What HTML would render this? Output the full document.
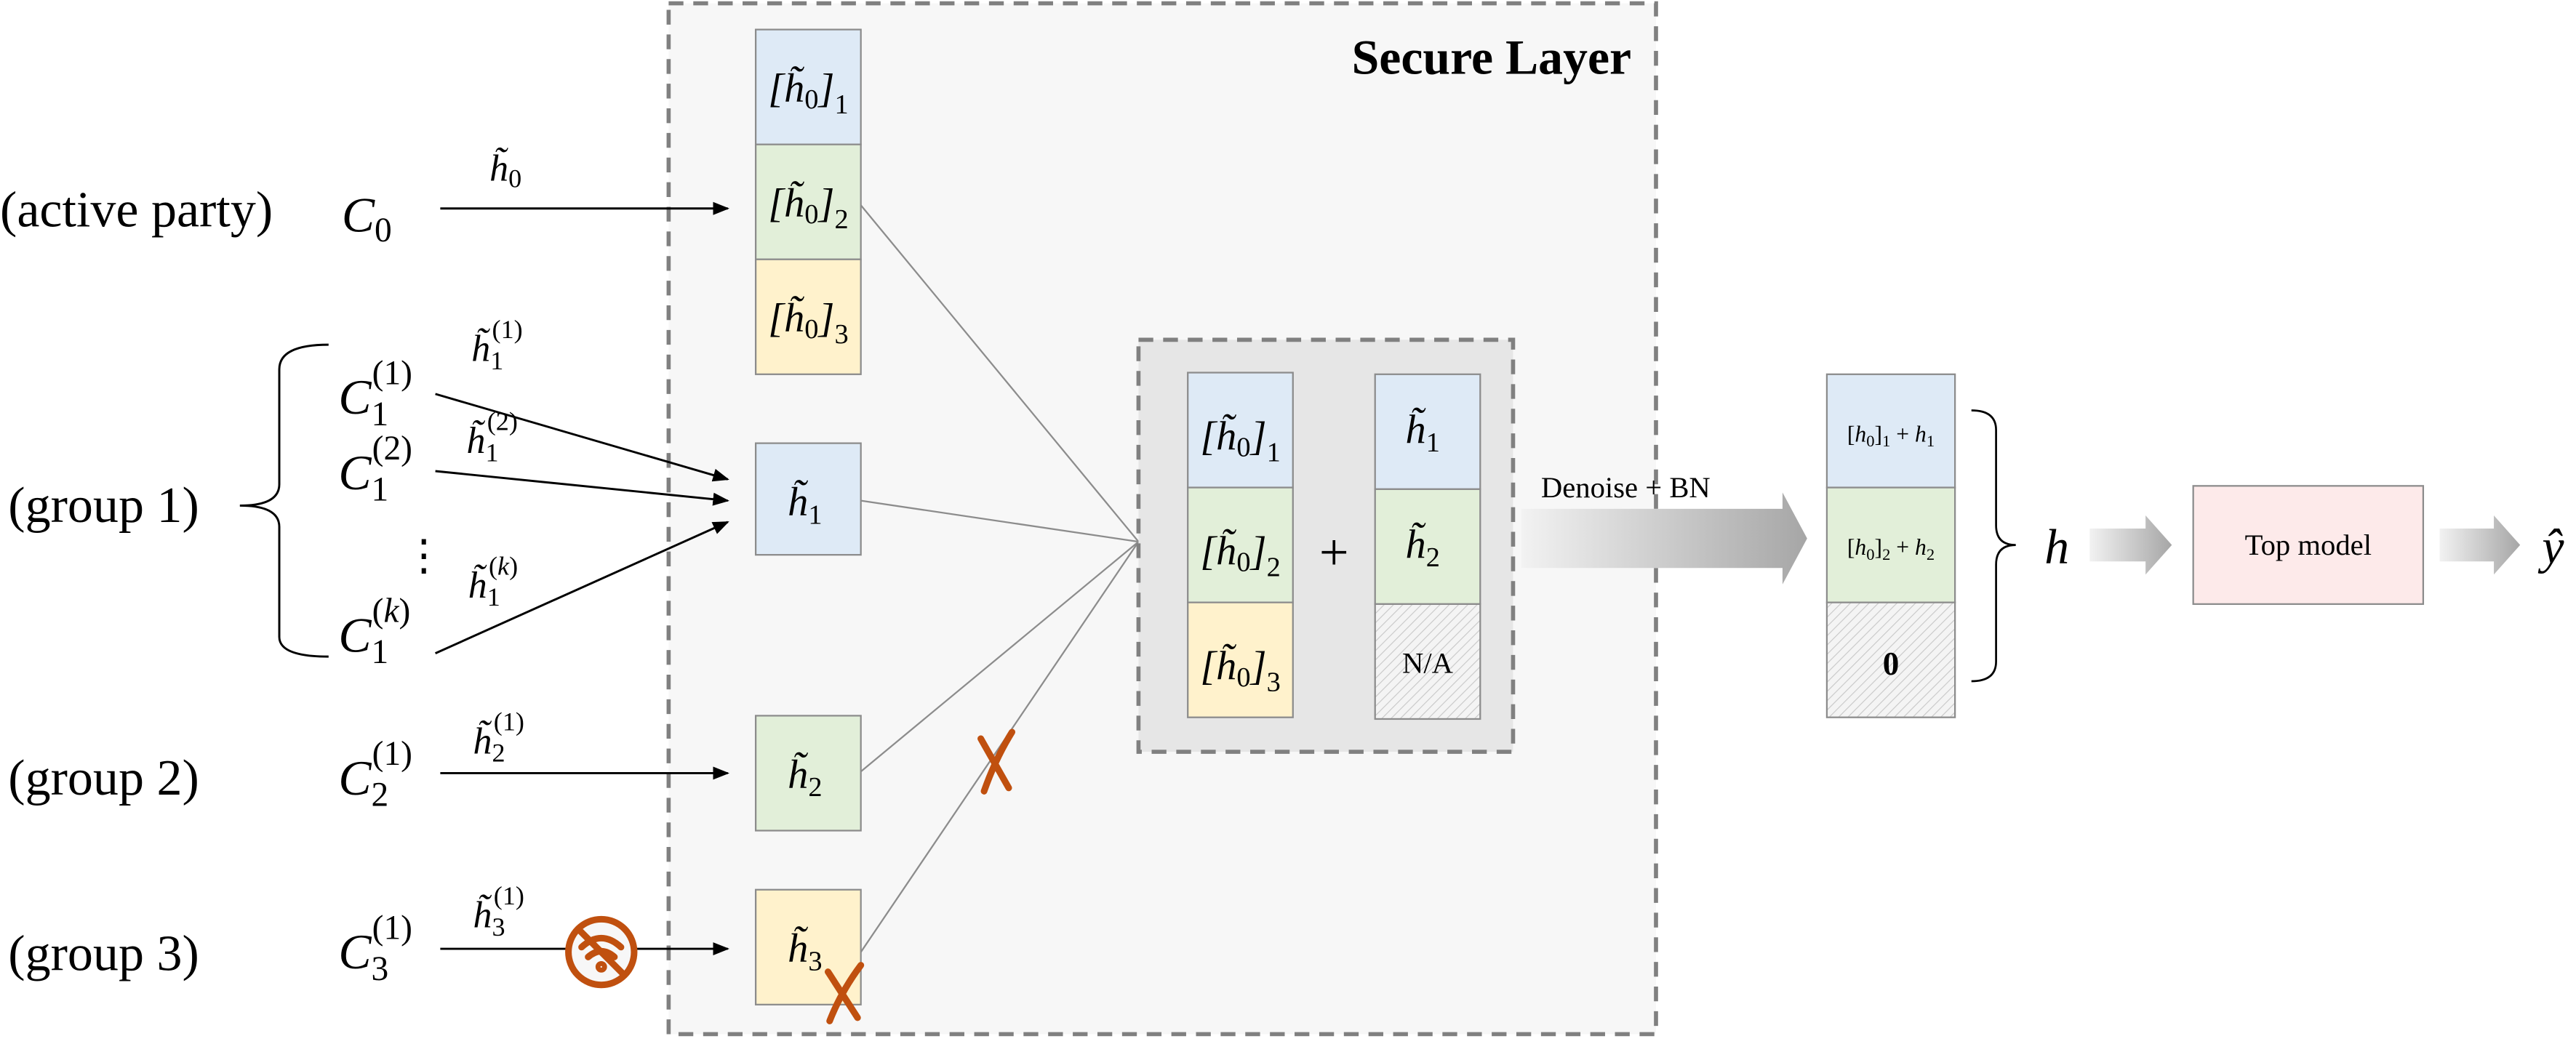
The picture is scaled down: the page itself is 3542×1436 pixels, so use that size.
<!DOCTYPE html>
<html><head><meta charset="utf-8"><style>html,body{margin:0;padding:0;background:#fff}svg{display:block}</style></head>
<body>
<svg width="3542" height="1436" viewBox="0 0 1568 636" preserveAspectRatio="none" xmlns="http://www.w3.org/2000/svg" font-family="'Liberation Serif',serif">
<defs>
<pattern id="hatch" width="4" height="4" patternUnits="userSpaceOnUse" patternTransform="rotate(45)">
<rect width="4" height="4" fill="#f4f4f4"/><line x1="0" y1="0" x2="0" y2="4" stroke="#c8c8c8" stroke-width="1"/></pattern>
<marker id="ar" markerWidth="10" markerHeight="8" refX="9" refY="4" orient="auto" markerUnits="userSpaceOnUse"><path d="M0,0 L10,4 L0,8z" fill="#000"/></marker>
<linearGradient id="g1" x1="0" x2="1"><stop offset="0" stop-color="#f2f2f2"/><stop offset="1" stop-color="#a6a6a6"/></linearGradient>
</defs>
<rect x="407" y="2" width="601" height="628" fill="#f7f7f7" stroke="#808080" stroke-width="2.5" stroke-dasharray="9,6"/>
<text x="993" y="45" text-anchor="end" font-size="30" font-weight="bold">Secure Layer</text>
<g stroke="#8c8c8c" stroke-width="1" fill="none">
<line x1="524" y1="125" x2="693" y2="330"/><line x1="524" y1="305" x2="693" y2="330"/>
<line x1="524" y1="470" x2="693" y2="330"/><line x1="524" y1="580" x2="693" y2="330"/></g>
<g stroke="#8c8c8c" stroke-width="1">
<rect x="460" y="18" width="64" height="70" fill="#deeaf6"/><rect x="460" y="88" width="64" height="70" fill="#e2efd9"/><rect x="460" y="158" width="64" height="70" fill="#fff2cc"/>
<rect x="460" y="270" width="64" height="68" fill="#deeaf6"/>
<rect x="460" y="436" width="64" height="70" fill="#e2efd9"/>
<rect x="460" y="542" width="64" height="70" fill="#fff2cc"/></g>
<g font-size="25" font-style="italic" text-anchor="middle">
<text x="492" y="62">[h̃<tspan font-style="normal" font-size="17" dy="4">0</tspan><tspan dy="-4">]</tspan><tspan font-style="normal" font-size="17" dy="7">1</tspan></text>
<text x="492" y="132">[h̃<tspan font-style="normal" font-size="17" dy="4">0</tspan><tspan dy="-4">]</tspan><tspan font-style="normal" font-size="17" dy="7">2</tspan></text>
<text x="492" y="202">[h̃<tspan font-style="normal" font-size="17" dy="4">0</tspan><tspan dy="-4">]</tspan><tspan font-style="normal" font-size="17" dy="7">3</tspan></text>
<text x="490" y="314">h̃<tspan font-style="normal" font-size="17" dy="5">1</tspan></text>
<text x="490" y="480">h̃<tspan font-style="normal" font-size="17" dy="5">2</tspan></text>
<text x="490" y="586">h̃<tspan font-style="normal" font-size="17" dy="5">3</tspan></text>
</g>
<rect x="693" y="207" width="228" height="251" fill="#e6e6e6" stroke="#808080" stroke-width="2.5" stroke-dasharray="9,6"/>
<g stroke="#8c8c8c" stroke-width="1">
<rect x="723" y="227" width="64" height="70" fill="#deeaf6"/><rect x="723" y="297" width="64" height="70" fill="#e2efd9"/><rect x="723" y="367" width="64" height="70" fill="#fff2cc"/>
<rect x="837" y="228" width="64" height="70" fill="#deeaf6"/><rect x="837" y="298" width="64" height="70" fill="#e2efd9"/><rect x="837" y="368" width="64" height="70" fill="url(#hatch)"/></g>
<g font-size="25" font-style="italic" text-anchor="middle">
<text x="755" y="274">[h̃<tspan font-style="normal" font-size="17" dy="4">0</tspan><tspan dy="-4">]</tspan><tspan font-style="normal" font-size="17" dy="7">1</tspan></text>
<text x="755" y="344">[h̃<tspan font-style="normal" font-size="17" dy="4">0</tspan><tspan dy="-4">]</tspan><tspan font-style="normal" font-size="17" dy="7">2</tspan></text>
<text x="755" y="414">[h̃<tspan font-style="normal" font-size="17" dy="4">0</tspan><tspan dy="-4">]</tspan><tspan font-style="normal" font-size="17" dy="7">3</tspan></text>
<text x="866" y="270">h̃<tspan font-style="normal" font-size="17" dy="5">1</tspan></text>
<text x="866" y="340">h̃<tspan font-style="normal" font-size="17" dy="5">2</tspan></text>
</g>
<text x="869" y="410" font-size="18" text-anchor="middle">N/A</text>
<text x="812" y="347" font-size="32" text-anchor="middle">+</text>
<path d="M926,310 L1085,310 L1085,300 L1100,328 L1085,356 L1085,346 L926,346z" fill="url(#g1)"/>
<text x="938" y="303" font-size="18">Denoise + BN</text>
<g stroke="#8c8c8c" stroke-width="1">
<rect x="1112" y="228" width="78" height="69" fill="#deeaf6"/><rect x="1112" y="297" width="78" height="70" fill="#e2efd9"/><rect x="1112" y="367" width="78" height="70" fill="url(#hatch)"/></g>
<text x="1151" y="269" font-size="14" text-anchor="middle">[<tspan font-style="italic">h</tspan><tspan font-size="10" dy="3">0</tspan><tspan dy="-3">]</tspan><tspan font-size="10" dy="3">1</tspan><tspan dy="-3"> + </tspan><tspan font-style="italic">h</tspan><tspan font-size="10" dy="3">1</tspan></text>
<text x="1151" y="338" font-size="14" text-anchor="middle">[<tspan font-style="italic">h</tspan><tspan font-size="10" dy="3">0</tspan><tspan dy="-3">]</tspan><tspan font-size="10" dy="3">2</tspan><tspan dy="-3"> + </tspan><tspan font-style="italic">h</tspan><tspan font-size="10" dy="3">2</tspan></text>
<text x="1151" y="411" font-size="20" font-weight="bold" text-anchor="middle">0</text>
<path d="M1200,250 Q1215,250 1215,262 L1215,320 Q1215,332 1227,332 Q1215,332 1215,344 L1215,403 Q1215,415 1200,415" fill="none" stroke="#000" stroke-width="1.2"/>
<text x="1252" y="343" font-size="30" font-style="italic" text-anchor="middle">h</text>
<path d="M1272,322 L1306,322 L1306,314 L1322,332 L1306,350 L1306,342 L1272,342z" fill="url(#g1)"/>
<rect x="1335" y="296" width="140" height="72" fill="#fdeaea" stroke="#8c8c8c" stroke-width="1"/>
<text x="1405" y="338" font-size="18" text-anchor="middle">Top model</text>
<path d="M1485,322 L1518,322 L1518,314 L1534,332 L1518,350 L1518,342 L1485,342z" fill="url(#g1)"/>
<text x="1554" y="343" font-size="30" font-style="italic" text-anchor="middle">ŷ</text>
<g font-size="31">
<text x="0" y="138">(active party)</text><text x="5" y="318">(group 1)</text><text x="5" y="484">(group 2)</text><text x="5" y="591">(group 3)</text></g>
<path d="M200,210 Q170,210 170,225 L170,295 Q170,308 146,308 Q170,308 170,321 L170,388 Q170,400 200,400" fill="none" stroke="#000" stroke-width="1.3"/>
<g font-size="30" font-style="italic">
<text x="208" y="141">C<tspan font-style="normal" font-size="21" dy="6">0</tspan></text>
<text x="206" y="252">C<tspan font-style="normal" font-size="21" dy="7">1</tspan><tspan font-style="normal" font-size="21" dx="-10" dy="-25">(1)</tspan></text>
<text x="206" y="298">C<tspan font-style="normal" font-size="21" dy="7">1</tspan><tspan font-style="normal" font-size="21" dx="-10" dy="-25">(2)</tspan></text>
<text x="206" y="397">C<tspan font-style="normal" font-size="21" dy="7">1</tspan><tspan font-style="normal" font-size="21" dx="-10" dy="-25">(<tspan font-style="italic">k</tspan>)</tspan></text>
<text x="206" y="484">C<tspan font-style="normal" font-size="21" dy="7">2</tspan><tspan font-style="normal" font-size="21" dx="-10" dy="-25">(1)</tspan></text>
<text x="206" y="590">C<tspan font-style="normal" font-size="21" dy="7">3</tspan><tspan font-style="normal" font-size="21" dx="-10" dy="-25">(1)</tspan></text>
</g>
<text x="258" y="347" font-size="26" text-anchor="middle">⋮</text>
<g font-size="23" font-style="italic">
<text x="298" y="110">h̃<tspan font-style="normal" font-size="16" dy="4">0</tspan></text>
<text x="287" y="220">h̃<tspan font-style="normal" font-size="16" dy="5">1</tspan><tspan font-style="normal" font-size="16" dx="-7" dy="-19">(1)</tspan></text>
<text x="284" y="276">h̃<tspan font-style="normal" font-size="16" dy="5">1</tspan><tspan font-style="normal" font-size="16" dx="-7" dy="-19">(2)</tspan></text>
<text x="285" y="364">h̃<tspan font-style="normal" font-size="16" dy="5">1</tspan><tspan font-style="normal" font-size="16" dx="-7" dy="-19">(<tspan font-style="italic">k</tspan>)</tspan></text>
<text x="288" y="459">h̃<tspan font-style="normal" font-size="16" dy="5">2</tspan><tspan font-style="normal" font-size="16" dx="-7" dy="-19">(1)</tspan></text>
<text x="288" y="565">h̃<tspan font-style="normal" font-size="16" dy="5">3</tspan><tspan font-style="normal" font-size="16" dx="-7" dy="-19">(1)</tspan></text>
</g>
<g stroke="#000" stroke-width="1.3" marker-end="url(#ar)">
<line x1="268" y1="127" x2="443" y2="127"/>
<line x1="265" y1="240" x2="443" y2="292"/>
<line x1="265" y1="287" x2="443" y2="305"/>
<line x1="265" y1="398" x2="443" y2="318"/>
<line x1="268" y1="471" x2="443" y2="471"/>
<line x1="268" y1="578" x2="443" y2="578"/>
</g>
<g stroke="#c0500f" stroke-width="4" fill="none" stroke-linecap="round">
<circle cx="366" cy="580" r="20" fill="#f7f7f7"/>
<path d="M354,577 Q366,566 378,577 M358,583 Q366,576 374,583"/><circle cx="366" cy="589" r="1.5"/>
<line x1="352" y1="566" x2="380" y2="594"/>
<path d="M597,450 L614,480 M616,446 Q606,462 599,482"/>
<path d="M504,592 L522,620 M524,588 Q512,604 505,622"/>
</g>
</svg>
</body></html>
